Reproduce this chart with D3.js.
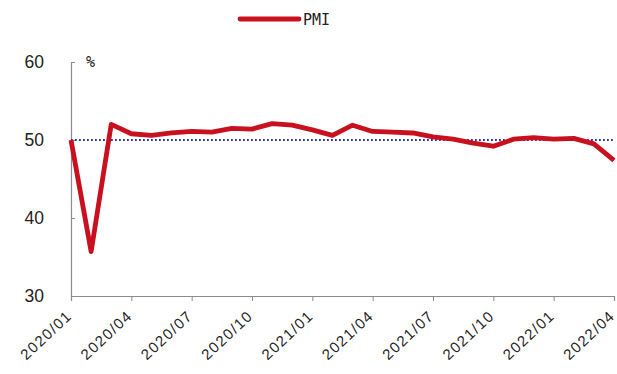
<!DOCTYPE html>
<html>
<head>
<meta charset="utf-8">
<script src="https://cdn.jsdelivr.net/npm/d3@7/dist/d3.min.js"></script>
<style>
  html, body { margin: 0; padding: 0; background: #fff; }
  svg { display: block; }
</style>
</head>
<body>
<svg id="chart" width="617" height="374"></svg>
<script>
// Manufacturing PMI, monthly
const months = [
  "2020/01","2020/02","2020/03","2020/04","2020/05","2020/06","2020/07","2020/08","2020/09","2020/10","2020/11","2020/12",
  "2021/01","2021/02","2021/03","2021/04","2021/05","2021/06","2021/07","2021/08","2021/09","2021/10","2021/11","2021/12",
  "2022/01","2022/02","2022/03","2022/04"
];
const pmi = [
  50.0, 35.7, 52.0, 50.8, 50.6, 50.9, 51.1, 51.0, 51.5, 51.4, 52.1, 51.9,
  51.3, 50.6, 51.9, 51.1, 51.0, 50.9, 50.4, 50.1, 49.6, 49.2, 50.1, 50.3,
  50.1, 50.2, 49.5, 47.4
];
const tickLabels = ["2020/01","2020/04","2020/07","2020/10","2021/01","2021/04","2021/07","2021/10","2022/01","2022/04"];
const yTicks = [30, 40, 50, 60];
const threshold = 50;

const svg = d3.select("#chart");
const plot = { left: 71, right: 614, top: 62, bottom: 296 };

const x = d3.scalePoint().domain(months).range([plot.left, plot.right]);
const y = d3.scaleLinear().domain([30, 60]).range([plot.bottom, plot.top]);

const axisColor = "#8c8c8c";

// y axis (ticks pointing into the plot)
const yAxis = svg.append("g")
  .attr("transform", `translate(${plot.left},0)`)
  .call(d3.axisRight(y).tickValues(yTicks).tickSize(4).tickFormat(""));
yAxis.select(".domain").attr("stroke", axisColor).attr("stroke-width", 1.2);
yAxis.selectAll(".tick line").attr("stroke", axisColor);

svg.append("g").selectAll("text").data(yTicks).join("text")
  .attr("x", 44).attr("y", d => y(d))
  .attr("dy", "0.35em")
  .attr("text-anchor", "end")
  .attr("font-family", "Liberation Sans, Arial, sans-serif")
  .attr("font-size", 17.5)
  .attr("fill", "#222")
  .text(d => d);

svg.append("text")
  .attr("x", 86).attr("y", 67)
  .attr("font-family", "DejaVu Sans Mono, monospace")
  .attr("font-size", 15)
  .attr("fill", "#222")
  .text("%");

// x axis
const xAxis = svg.append("g")
  .attr("transform", `translate(0,${plot.bottom})`)
  .call(d3.axisBottom(x).tickValues(tickLabels).tickSize(5).tickFormat(""));
xAxis.select(".domain").attr("stroke", axisColor).attr("stroke-width", 1.2);
xAxis.selectAll(".tick line").attr("stroke", axisColor);

svg.append("g").selectAll("text").data(tickLabels).join("text")
  .attr("transform", d => `translate(${x(d) + 2},${plot.bottom + 21}) rotate(-43)`)
  .attr("text-anchor", "end")
  .attr("font-family", "Liberation Sans, Arial, sans-serif")
  .attr("font-size", 15)
  .attr("letter-spacing", 1.4)
  .attr("fill", "#222")
  .text(d => d);

// 50 threshold line
svg.append("line")
  .attr("x1", plot.left).attr("x2", plot.right)
  .attr("y1", y(threshold)).attr("y2", y(threshold))
  .attr("stroke", "#2b33a8")
  .attr("stroke-width", 1.8)
  .attr("stroke-dasharray", "1.8,2.2");

// PMI line
const line = d3.line().x((d, i) => x(months[i])).y(d => y(d));
svg.append("path")
  .datum(pmi)
  .attr("d", line)
  .attr("fill", "none")
  .attr("stroke", "#c8101e")
  .attr("stroke-width", 4.8)
  .attr("stroke-linejoin", "round");

// legend
svg.append("line")
  .attr("x1", 240).attr("x2", 299)
  .attr("y1", 19).attr("y2", 19)
  .attr("stroke", "#c8101e")
  .attr("stroke-width", 4.8)
  .attr("stroke-linecap", "round");
svg.append("text")
  .attr("x", 303).attr("y", 25)
  .attr("font-family", "DejaVu Sans Mono, monospace")
  .attr("font-size", 15)
  .attr("fill", "#222")
  .text("PMI");
</script>
</body>
</html>
